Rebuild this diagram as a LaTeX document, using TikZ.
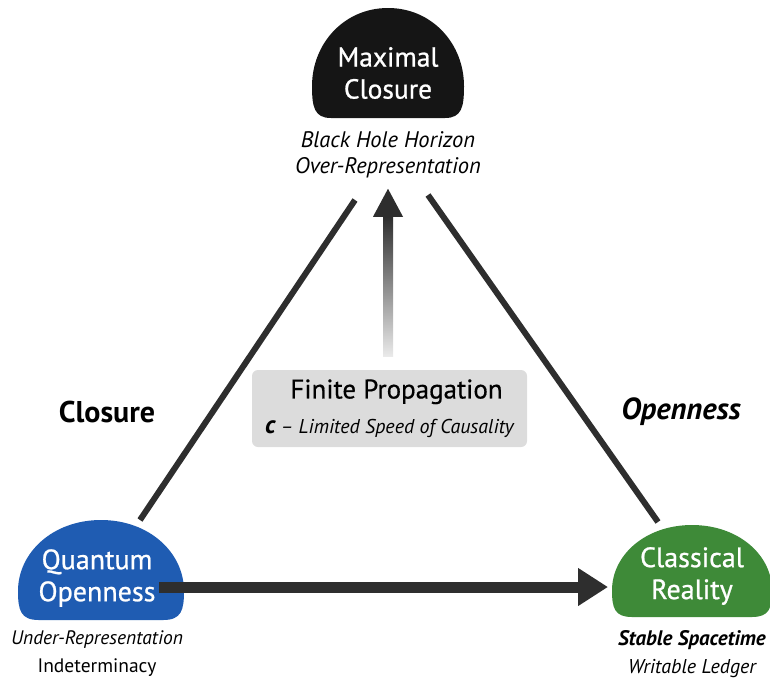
\documentclass[tikz,border=0pt]{standalone}
\usepackage{fontspec}
\setmainfont{PT Sans}
\usetikzlibrary{positioning, calc, arrows.meta, shadings}

\definecolor{domeblack}{HTML}{151515}
\definecolor{domeblue}{HTML}{1F5CB2}
\definecolor{domegreen}{HTML}{3E8A38}
\definecolor{edgegray}{HTML}{2E2E2E}
\definecolor{boxgray}{HTML}{DCDCDC}

% dome shape: #1 centre, #2 half width, #3 half height, #4 colour
\newcommand{\domeshape}[4]{%
	\fill[#4, shift={#1}, x=#2pt, y=#3pt]
	(-0.75,-1) .. controls (-0.97,-1) and (-1,-0.8) .. (-1,-0.42)
	.. controls (-1,0.35) and (-0.58,1) .. (0,1)
	.. controls (0.58,1) and (1,0.35) .. (1,-0.42)
	.. controls (1,-0.8) and (0.97,-1) .. (0.75,-1) -- cycle;
}

\begin{document}
\begin{tikzpicture}[x=1pt, y=-1pt,
		dome/.style={text=white, align=center,
			font=\fontsize{28}{32}\selectfont\addfontfeature{FakeBold=0.8}},
		caption/.style={align=center, font=\fontsize{22.5}{26}\selectfont},
		side/.style={font=\fontsize{30}{34}\selectfont\bfseries},
		edge/.style={draw=edgegray, line width=6pt}
	]
	\useasboundingbox (0,0) rectangle (770,680);

	\domeshape{(388,63)}{76}{55}{domeblack}
	\domeshape{(101,570)}{83}{50}{domeblue}
	\domeshape{(692,571)}{80}{46}{domegreen}

	\node[dome, font=\fontsize{27.5}{32}\selectfont\addfontfeature{FakeBold=0.8}]
		(closure) at (388,73) {Maximal\\Closure};
	\node[dome] (quantum) at (97,578) {Quantum\\Openness};
	\node[dome] (classical) at (692,576) {Classical\\Reality};

	\node[caption] (closurecap) at (388,155)
		{\itshape Black Hole Horizon\\\itshape Over-Representation};
	\node[caption, font=\fontsize{19.5}{28}\selectfont] (quantumcap) at (97,654)
		{\itshape Under-Representation\\Indeterminacy};
	\node[caption, font=\fontsize{20}{28}\selectfont] (classicalcap) at (692,654)
		{{\fontsize{21}{28}\selectfont\bfseries\itshape Stable Spacetime}\\\itshape Writable Ledger};

	\node[side] (leftlabel) at (107,412) {Closure};
	\node[side, font=\fontsize{30.5}{34}\selectfont\bfseries\itshape] (rightlabel) at (681,412) {Openness};

	\node[fill=boxgray, rounded corners=6pt, minimum width=275pt, minimum height=77pt,
		align=center, font=\fontsize{20}{35}\selectfont] (prop) at (389.5,408.5)
		{{\fontsize{27}{27}\selectfont\addfontfeature{FakeBold=0.5}\hspace*{14pt}Finite Propagation}\\
		{\fontsize{25}{25}\selectfont\bfseries\itshape c} \itshape -- Limited Speed of Causality};

	\coordinate (leftfoot) at (140,520);
	\coordinate (lefthead) at (355,200);
	\coordinate (rightfoot) at (658,522);
	\coordinate (righthead) at (428,195);
	\draw[edge] (leftfoot) -- (lefthead);
	\draw[edge] (rightfoot) -- (righthead);

	% rising arrow from the box
	\coordinate (risefoot) at ($(prop.north)+(-1.5,-13)$);
	\coordinate (risetip) at ($(closurecap.south)+(0,7)$);
	\shade[top color=edgegray, bottom color=white!92!black]
		($(risefoot)+(-5,0)$) rectangle ($(risetip)+(5,28)$);
	\fill[edgegray] (risetip) -- ++(-15,28) -- ++(30,0) -- cycle;

	\draw[draw=edgegray, line width=11pt,
		-{Triangle[length=30pt, width=36pt]}]
		(quantum.east |- 0,587) -- (608,587);
\end{tikzpicture}
\end{document}
